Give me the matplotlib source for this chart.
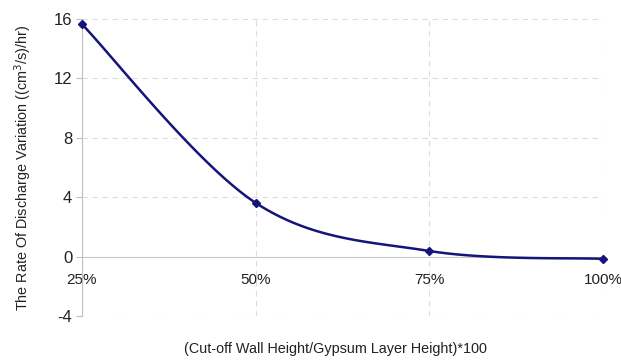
import numpy as np
import matplotlib.pyplot as plt

plt.rcParams['font.family'] = ['Liberation Sans', 'DejaVu Sans']
plt.rcParams['axes.unicode_minus'] = False

# data
categories = ['25%', '50%', '75%', '100%']
rate = [15.65, 3.62, 0.38, -0.15]

y_ticks = [-4, 0, 4, 8, 12, 16]


def smooth_curve(x, y, n=40):
    """Excel-style smoothed line: Bezier segments with Catmull-Rom control points."""
    x = np.asarray(x, float)
    y = np.asarray(y, float)
    px = np.concatenate([[x[0]], x, [x[-1]]])
    py = np.concatenate([[y[0]], y, [y[-1]]])
    t = np.linspace(0, 1, n)
    xs, ys = [], []
    for i in range(1, len(px) - 2):
        p0 = np.array([px[i], py[i]])
        p3 = np.array([px[i + 1], py[i + 1]])
        p1 = p0 + (np.array([px[i + 1], py[i + 1]]) - np.array([px[i - 1], py[i - 1]])) / 6
        p2 = p3 - (np.array([px[i + 2], py[i + 2]]) - np.array([px[i], py[i]])) / 6
        b = ((1 - t) ** 3)[:, None] * p0 + (3 * (1 - t) ** 2 * t)[:, None] * p1 \
            + (3 * (1 - t) * t ** 2)[:, None] * p2 + (t ** 3)[:, None] * p3
        xs.append(b[:, 0])
        ys.append(b[:, 1])
    return np.concatenate(xs), np.concatenate(ys)


x = np.arange(len(categories))
sx, sy = smooth_curve(x, rate)

fig = plt.figure(figsize=(6.21, 3.62), dpi=100)
ax = fig.add_axes([0.132, 0.127, 0.839, 0.8205])

line_color = '#14147a'
ax.plot(sx, sy, color=line_color, lw=1.8, zorder=3, clip_on=False)
ax.plot(x, rate, linestyle='none', marker='D', ms=4.5, color=line_color, zorder=4, clip_on=False)

ax.set_xlim(0, len(categories) - 1)
ax.set_ylim(-4, 16)
ax.set_yticks(y_ticks)
ax.set_xticks(x)
ax.set_xticklabels(categories)

# grid
ax.grid(True, color='#dcdcdc', linestyle=(0, (5, 4)), lw=0.8)
ax.set_axisbelow(True)

# spines
for s in ['top', 'right']:
    ax.spines[s].set_visible(False)
ax.spines['left'].set_color('#c0c0c0')
ax.spines['bottom'].set_position(('data', 0))
ax.spines['bottom'].set_color('#c8c8c8')
ax.spines['bottom'].set_zorder(1)

ax.tick_params(axis='y', length=4, color='#c0c0c0', labelsize=12, pad=3)
ax.tick_params(axis='x', length=0, labelsize=11, pad=12)
for lbl in ax.get_xticklabels() + ax.get_yticklabels():
    lbl.set_color('#222222')

ax.set_ylabel('The Rate Of Discharge Variation ((cm$^3$/s)/hr)', fontsize=10.4, color='#222222', labelpad=14)
fig.text(0.54, 0.025, '(Cut-off Wall Height/Gypsum Layer Height)*100', ha='center', fontsize=10.4, color='#222222')

fig.savefig('out.png', dpi=100)
